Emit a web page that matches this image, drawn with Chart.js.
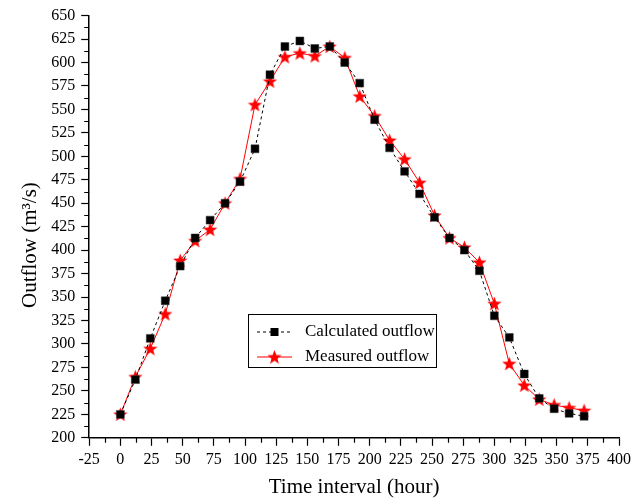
<!DOCTYPE html>
<html>
<head>
<meta charset="utf-8">
<script src="https://cdn.jsdelivr.net/npm/chart.js@4.4.1/dist/chart.umd.min.js"></script>
<style>
  html, body { margin: 0; padding: 0; background: #fff; }
  #wrap { width: 644px; height: 498px; }
</style>
</head>
<body>
<div id="wrap"><canvas id="chart" width="644" height="498"></canvas></div>
<script>
// time in hours
const hours = [0, 12, 24, 36, 48, 60, 72, 84, 96, 108, 120, 132, 144, 156, 168, 180,
  192, 204, 216, 228, 240, 252, 264, 276, 288, 300, 312, 324, 336, 348, 360, 372];

const calculated = [225, 262, 306, 346, 383, 413, 432, 450, 473, 508, 587, 617, 623, 615, 617, 600,
  578, 539, 509, 484, 460, 435, 413, 400, 378, 330, 307, 268, 242, 231, 226, 223];

const measured = [225, 265, 295, 332, 389, 410, 422, 450, 476, 555, 580, 606, 610, 607, 617, 605,
  564, 543, 517, 497, 472, 437, 413, 403, 387, 343, 279, 256, 241, 235, 232, 229];

const xTicks = { min: -25, max: 400, step: 25 };
const yTicks = { min: 200, max: 650, step: 25 };

const seriesNames = ['Calculated outflow', 'Measured outflow'];
const xTitle = 'Time interval (hour)';
const yTitle = 'Outflow (m\u00b3/s)       ';

const FONT = '"Liberation Serif", "Times New Roman", serif';
Chart.defaults.font.family = FONT;
Chart.defaults.color = '#000';

function makeStar(size, color) {
  const c = document.createElement('canvas');
  c.width = size;
  c.height = size;
  const ctx = c.getContext('2d');
  const cx = size / 2, cy = size / 2 + 0.6;
  const outer = size / 2, inner = outer * 0.42;
  ctx.beginPath();
  for (let i = 0; i < 10; i++) {
    const r = i % 2 === 0 ? outer : inner;
    const a = -Math.PI / 2 + i * Math.PI / 5;
    const px = cx + r * Math.cos(a), py = cy + r * Math.sin(a);
    if (i === 0) ctx.moveTo(px, py); else ctx.lineTo(px, py);
  }
  ctx.closePath();
  ctx.fillStyle = color;
  ctx.fill();
  return c;
}

const star = makeStar(15, '#ff0000');

const toPoints = (vals) => hours.map((h, i) => ({ x: h, y: vals[i] }));

// short minor ticks half way between the labelled ones
const minorTicks = {
  id: 'minorTicks',
  afterDraw(chart) {
    const { ctx, scales: { x, y } } = chart;
    ctx.save();
    ctx.strokeStyle = '#000';
    ctx.lineWidth = 1.2;
    ctx.beginPath();
    for (let v = xTicks.min + xTicks.step / 2; v < xTicks.max; v += xTicks.step) {
      const px = Math.round(x.getPixelForValue(v)) + 0.5;
      ctx.moveTo(px, x.top);
      ctx.lineTo(px, x.top + 5);
    }
    for (let v = yTicks.min + yTicks.step / 2; v < yTicks.max; v += yTicks.step) {
      const py = Math.round(y.getPixelForValue(v)) + 0.5;
      ctx.moveTo(y.right, py);
      ctx.lineTo(y.right - 5, py);
    }
    ctx.stroke();
    ctx.restore();
  }
};

// legend box drawn inside the plot area
const boxLegend = {
  id: 'boxLegend',
  afterDraw(chart) {
    const ctx = chart.ctx;
    const left = 248, top = 314, w = 188, h = 53;
    ctx.save();
    ctx.strokeStyle = '#000';
    ctx.lineWidth = 1;
    ctx.strokeRect(left + 0.5, top + 0.5, w, h);

    const rows = [top + 18, top + 43];
    const x0 = left + 9, x1 = left + 44, xm = (x0 + x1) / 2;

    // calculated
    ctx.strokeStyle = '#000';
    ctx.setLineDash([3, 3]);
    ctx.beginPath();
    ctx.moveTo(x0, rows[0]);
    ctx.lineTo(x1, rows[0]);
    ctx.stroke();
    ctx.setLineDash([]);
    ctx.fillStyle = '#000';
    ctx.fillRect(xm - 4, rows[0] - 4, 8, 8);

    // measured
    ctx.strokeStyle = '#ff0000';
    ctx.beginPath();
    ctx.moveTo(x0, rows[1]);
    ctx.lineTo(x1, rows[1]);
    ctx.stroke();
    ctx.drawImage(star, xm - 7.5, rows[1] - 7.5);

    ctx.fillStyle = '#000';
    ctx.font = '17px ' + FONT;
    ctx.textBaseline = 'middle';
    ctx.textAlign = 'left';
    ctx.fillText(seriesNames[0], left + 57, rows[0]);
    ctx.fillText(seriesNames[1], left + 57, rows[1]);
    ctx.restore();
  }
};

new Chart(document.getElementById('chart').getContext('2d'), {
  type: 'line',
  data: {
    datasets: [
      {
        label: seriesNames[0],
        data: toPoints(calculated),
        borderColor: '#000',
        borderWidth: 1,
        borderDash: [3, 3],
        pointStyle: 'rect',
        pointRadius: 5.6,
        pointBackgroundColor: '#000',
        pointBorderColor: '#333',
        pointBorderWidth: 0.5,
        tension: 0,
      },
      {
        label: seriesNames[1],
        data: toPoints(measured),
        borderColor: '#ff0000',
        borderWidth: 1,
        pointStyle: star,
        pointRadius: 7,
        tension: 0,
      },
    ],
  },
  options: {
    responsive: false,
    animation: false,
    layout: { padding: { left: 18, right: 25, top: 8, bottom: 0 } },
    plugins: { legend: { display: false }, tooltip: { enabled: false } },
    scales: {
      x: {
        type: 'linear',
        min: xTicks.min,
        max: xTicks.max,
        grid: { display: true, drawOnChartArea: false, drawTicks: true, tickLength: 8, tickColor: '#000', tickWidth: 1.2 },
        border: { display: true, color: '#000', width: 1.5 },
        ticks: {
          stepSize: xTicks.step,
          autoSkip: false,
          maxRotation: 0,
          padding: 4,
          font: { size: 16 },
        },
        title: { display: true, text: xTitle, font: { size: 21, lineHeight: 1 }, padding: { top: 4, bottom: 0 } },
      },
      y: {
        type: 'linear',
        min: yTicks.min,
        max: yTicks.max,
        grid: { display: true, drawOnChartArea: false, drawTicks: true, tickLength: 8, tickColor: '#000', tickWidth: 1.2 },
        border: { display: true, color: '#000', width: 1.5 },
        ticks: {
          stepSize: yTicks.step,
          autoSkip: false,
          padding: 6,
          font: { size: 16 },
        },
        title: { display: true, text: yTitle, font: { size: 21 }, padding: { top: 0, bottom: 2 } },
      },
    },
  },
  plugins: [minorTicks, boxLegend],
});
</script>
</body>
</html>
